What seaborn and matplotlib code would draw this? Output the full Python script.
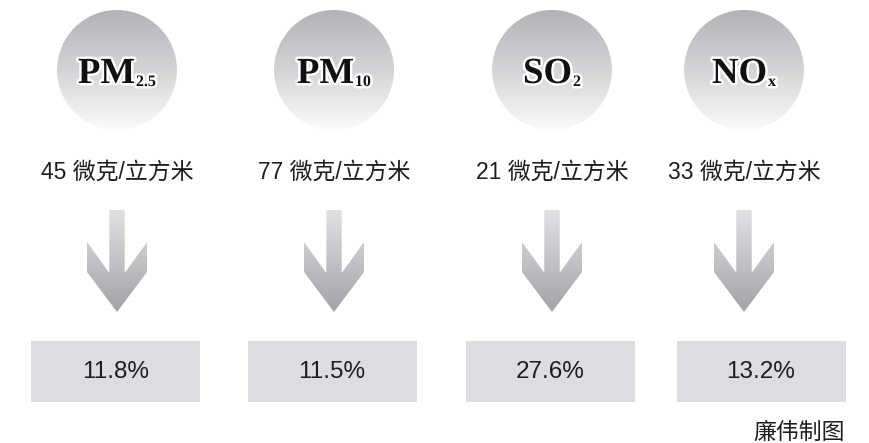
import numpy as np
import matplotlib
matplotlib.use("Agg")
import matplotlib.pyplot as plt
import matplotlib.patheffects as pe
from matplotlib.colors import LinearSegmentedColormap
from matplotlib.patches import Circle, Polygon, Rectangle
import seaborn as sns

# ====================================
# DATA
# ====================================
pollutants = ["PM", "PM", "SO", "NO"]
subscripts = ["2.5", "10", "2", "x"]
concentrations = [45, 77, 21, 33]
unit = "微克/立方米"
shares = [11.8, 11.5, 27.6, 13.2]
credit = "廉伟制图"

# ====================================
# LAYOUT (pixel coordinates)
# ====================================
W, H = 869, 443
col_x = [117, 334, 552, 744]      # circles, text, arrows
box_x = [115.5, 332, 550, 761]    # grey boxes
circle_y, circle_r = 70, 60
conc_y = 172
arrow_top, arrow_head, arrow_join, arrow_side, arrow_tip = 210, 242, 273, 272, 312
shaft_hw, head_hw = 7.7, 30
box_w, box_top, box_bottom = 169, 341, 402

sns.set_theme(style="white")
plt.rcParams["font.family"] = ["Liberation Sans", "Noto Sans CJK SC", "DejaVu Sans"]

circle_cmap = LinearSegmentedColormap.from_list("circ", ["#b1b3b6", "#d3d4d6", "#fbfbfb"])
arrow_cmap = LinearSegmentedColormap.from_list("arr", ["#e0e1e3", "#a2a3a6"])
grad = np.linspace(0, 1, 256).reshape(-1, 1)

fig = plt.figure(figsize=(W / 100, H / 100), dpi=100)
ax = fig.add_axes([0, 0, 1, 1])
ax.set_xlim(0, W)
ax.set_ylim(H, 0)
ax.axis("off")

main_texts, sub_texts = [], []
for i, cx in enumerate(col_x):
    # gradient circle
    circ = Circle((cx, circle_y), circle_r, facecolor="none", edgecolor="none")
    ax.add_patch(circ)
    im = ax.imshow(grad, cmap=circle_cmap, aspect="auto", origin="upper",
                   extent=(cx - circle_r, cx + circle_r, circle_y + circle_r, circle_y - circle_r))
    im.set_clip_path(circ)

    # pollutant name with subscript
    halo = [pe.withStroke(linewidth=3.5, foreground="white")]
    t1 = ax.text(cx, circle_y + 13, pollutants[i], fontsize=26.5, fontweight="bold",
                 family="Liberation Serif", color="#111111", ha="left", va="baseline",
                 path_effects=halo, zorder=5)
    t2 = ax.text(cx, circle_y + 16, subscripts[i], fontsize=11.5, fontweight="bold",
                 family="Liberation Serif", color="#111111", ha="left", va="baseline",
                 path_effects=halo, zorder=5)
    main_texts.append(t1)
    sub_texts.append(t2)

    # concentration
    ax.text(cx, conc_y, f"{concentrations[i]} {unit}", fontsize=16.5, color="#1e1e1e",
            ha="center", va="center")

    # gradient arrow
    pts = [
        (cx - shaft_hw, arrow_top), (cx + shaft_hw, arrow_top),
        (cx + shaft_hw, arrow_join), (cx + head_hw, arrow_head),
        (cx + head_hw, arrow_side), (cx, arrow_tip),
        (cx - head_hw, arrow_side), (cx - head_hw, arrow_head),
        (cx - shaft_hw, arrow_join),
    ]
    arr = Polygon(pts, closed=True, facecolor="none", edgecolor="none")
    ax.add_patch(arr)
    im2 = ax.imshow(grad, cmap=arrow_cmap, aspect="auto", origin="upper",
                    extent=(cx - head_hw, cx + head_hw, arrow_tip, arrow_top))
    im2.set_clip_path(arr)

    # share box
    bx = box_x[i]
    ax.add_patch(Rectangle((bx - box_w / 2, box_top), box_w, box_bottom - box_top,
                           facecolor="#dcdde0", edgecolor="none"))
    ax.text(bx, (box_top + box_bottom) / 2, f"{shares[i]}%", fontsize=17.5,
            color="#1e1e1e", ha="center", va="center")

ax.text(845, 432, credit, fontsize=16.5, color="#1e1e1e", ha="right", va="center")

# center each name+subscript pair on its circle
fig.canvas.draw()
renderer = fig.canvas.get_renderer()
for cx, t1, t2 in zip(col_x, main_texts, sub_texts):
    w1 = t1.get_window_extent(renderer).width
    w2 = t2.get_window_extent(renderer).width
    left = cx - (w1 + w2 + 1) / 2
    t1.set_x(left)
    t2.set_x(left + w1 + 1)

ax.set_xlim(0, W)
ax.set_ylim(H, 0)
fig.savefig("out.png", dpi=100)
